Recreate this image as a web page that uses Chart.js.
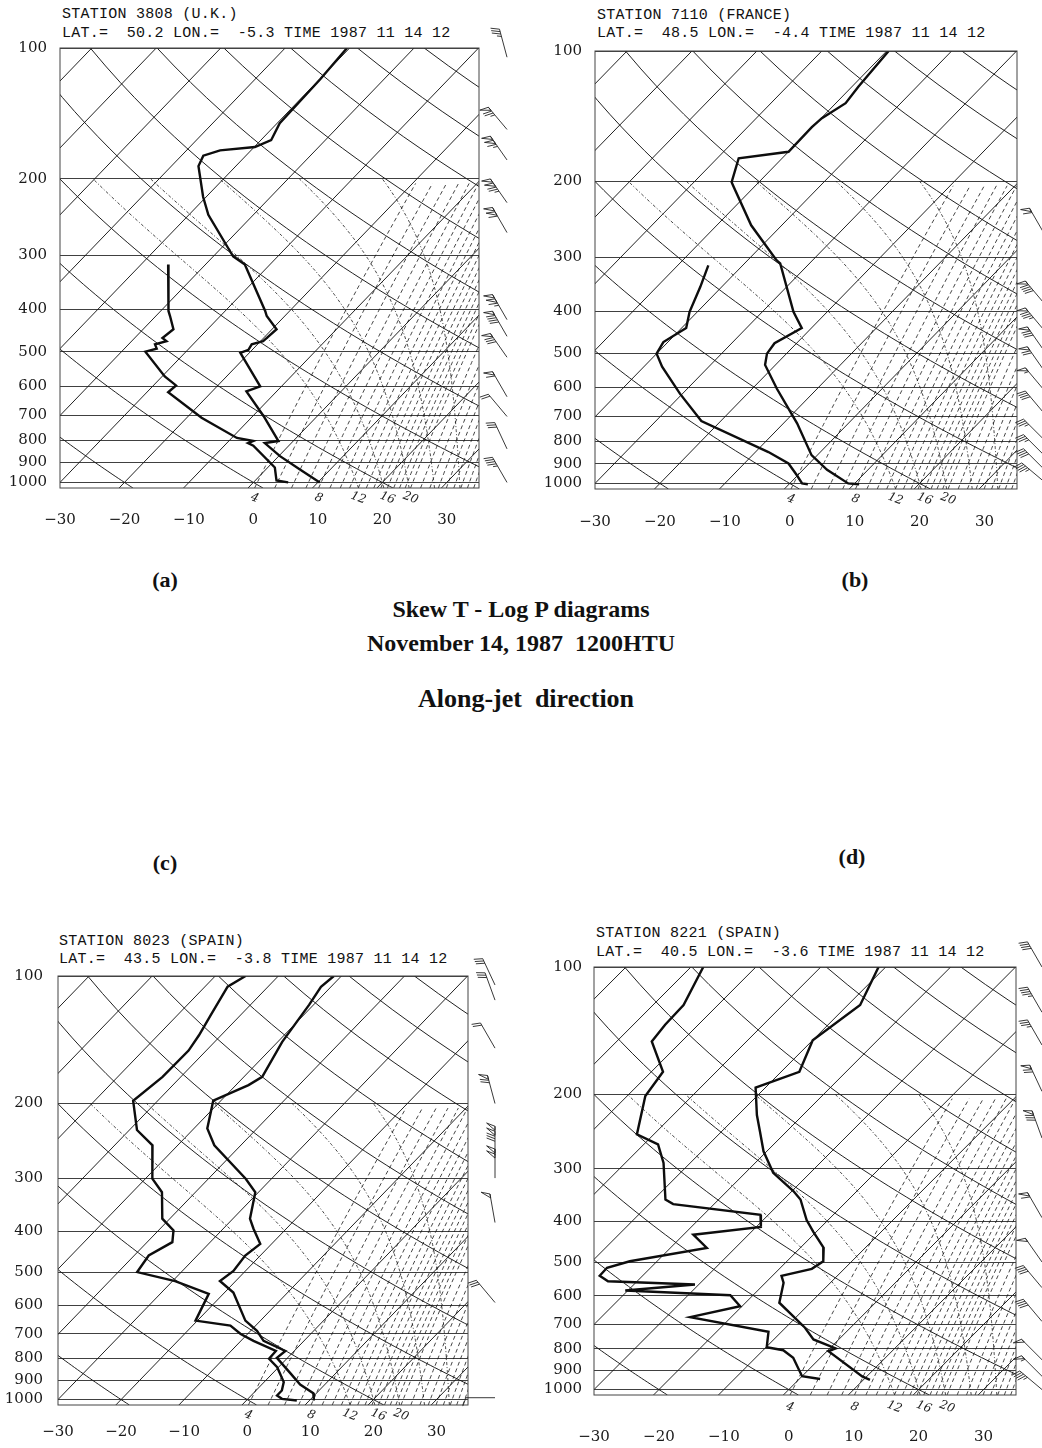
<!DOCTYPE html>
<html>
<head>
<meta charset="utf-8">
<script src="https://cdn.jsdelivr.net/npm/chart.js@4.4.1/dist/chart.umd.min.js"></script>
<style>
  body { margin:0; background:#fff; width:1042px; height:1448px; position:relative; overflow:hidden; }
  canvas { position:absolute; }
  .hdr { position:absolute; font-family:"Liberation Mono", monospace; font-size:15px; letter-spacing:0.25px; white-space:pre; color:#111; }
  .cap { position:absolute; font-family:"Liberation Serif", serif; font-weight:bold; font-size:24px; color:#111; white-space:pre; transform:translate(-50%,-50%); }
</style>
</head>
<body>
<div class="hdr" style="left:62px;top:5px;line-height:19px">STATION 3808 (U.K.)
LAT.=  50.2 LON.=  -5.3 TIME 1987 11 14 12</div>
<div class="hdr" style="left:597px;top:7px;line-height:18px">STATION 7110 (FRANCE)
LAT.=  48.5 LON.=  -4.4 TIME 1987 11 14 12</div>
<div class="hdr" style="left:59px;top:933px;line-height:18px">STATION 8023 (SPAIN)
LAT.=  43.5 LON.=  -3.8 TIME 1987 11 14 12</div>
<div class="hdr" style="left:596px;top:924px;line-height:19px">STATION 8221 (SPAIN)
LAT.=  40.5 LON.=  -3.6 TIME 1987 11 14 12</div>

<div class="cap" style="left:165px;top:580px;font-size:22px">(a)</div>
<div class="cap" style="left:855px;top:580px;font-size:22px">(b)</div>
<div class="cap" style="left:521px;top:609px">Skew T - Log P diagrams</div>
<div class="cap" style="left:521px;top:643px">November 14, 1987  1200HTU</div>
<div class="cap" style="left:526px;top:699px;font-size:26px">Along-jet  direction</div>
<div class="cap" style="left:165px;top:863px;font-size:22px">(c)</div>
<div class="cap" style="left:852px;top:857px;font-size:22px">(d)</div>

<script>
// ---- diagram reference values ----
const pressureTicks = [100, 200, 300, 400, 500, 600, 700, 800, 900, 1000];
const tempTicks = [-30, -20, -10, 0, 10, 20, 30];
const isothermT = [-100, -90, -80, -70, -60, -50, -40, -30, -20, -10, 0, 10, 20, 30];
const dryThetaC = [-20, 0, 20, 40, 60, 80, 100, 120, 140, 160, 180];
const mixW = [4, 5, 6, 7, 8, 9, 10, 11, 12, 13, 14, 15, 16, 17, 18, 19, 20, 22, 24, 26, 28, 30, 32, 34, 36];
const mixLabelW = [4, 8, 12, 16, 20];
const moistTw = [16, 20, 24, 28, 32];

// ---- station 3808 (U.K.) ----
const tempP3808 = [100, 118, 149, 163, 169, 172, 177, 187, 220, 242, 302, 315, 403, 414, 444, 465, 473, 481, 495, 503, 601, 617, 704, 803, 812, 870, 934, 1000];
const temp3808  = [-50.4, -49.9, -49.6, -48.4, -49.9, -54.8, -56.6, -55.8, -50.5, -47.0, -36.9, -33.9, -23.8, -22.8, -19.3, -19.5, -19.6, -20.9, -20.6, -21.4, -13.3, -14.7, -8.3, -2.3, -4.1, 0.2, 5.3, 10.3];
const dewP3808  = [315, 403, 414, 444, 465, 473, 481, 492, 500, 570, 598, 620, 710, 790, 803, 812, 823, 924, 990, 1000];
const dew3808   = [-45.8, -38.8, -37.8, -35.3, -35.7, -34.6, -35.9, -35.0, -36.3, -29.6, -26.5, -26.7, -17.7, -9.2, -6.2, -6.7, -5.5, 1.1, 3.3, 5.4];
const windP3808   = [105, 154, 181, 227, 266, 422, 461, 515, 635, 705, 837, 1000];
const windDir3808 = [345, 320, 325, 325, 330, 330, 330, 325, 330, 320, 335, 330];
const windKt3808  = [35, 75, 115, 125, 110, 115, 90, 80, 60, 20, 30, 45];

// ---- station 7110 (France) ----
const tempP7110 = [100, 121, 132, 143, 150, 171, 177, 201, 206, 253, 305, 310, 401, 437, 474, 501, 532, 604, 726, 860, 930, 1000, 1004];
const temp7110  = [-49.7, -49.0, -48.5, -49.9, -50.1, -50.0, -56.7, -54.2, -53.2, -44.7, -35.5, -34.5, -25.2, -21.5, -23.4, -23.0, -21.6, -16.2, -7.9, -0.9, 3.7, 9.0, 10.8];
const dewP7110  = [313, 351, 401, 437, 471, 501, 537, 620, 717, 846, 899, 956, 1000, 1004];
const dew7110   = [-45.3, -43.3, -41.2, -39.3, -40.7, -40.0, -37.2, -30.4, -23.0, -8.0, -3.2, -0.2, 1.9, 2.9];
const windP7110   = [264, 383, 442, 493, 548, 608, 688, 792, 860, 927, 990];
const windDir7110 = [330, 320, 320, 325, 325, 320, 320, 315, 315, 315, 310];
const windKt7110  = [60, 90, 85, 80, 70, 55, 40, 35, 35, 40, 45];

// ---- station 8023 (Spain) ----
const tempP8023 = [100, 106, 117, 143, 173, 181, 197, 229, 251, 301, 324, 374, 395, 429, 457, 497, 525, 559, 651, 688, 727, 768, 797, 865, 922, 966, 1005];
const temp8023  = [-51.2, -51.6, -50.7, -49.3, -47.1, -48.0, -51.2, -47.9, -44.2, -34.1, -30.5, -27.3, -25.2, -21.8, -22.4, -21.9, -22.5, -18.6, -12.4, -9.0, -6.4, -1.4, -1.7, 2.7, 6.1, 9.5, 10.7];
const dewP8023  = [100, 106, 124, 138, 150, 173, 197, 231, 251, 301, 324, 374, 399, 425, 457, 500, 525, 563, 651, 669, 700, 727, 768, 801, 839, 909, 952, 978, 996, 1005];
const dew8023   = [-65.2, -66.4, -64.7, -63.5, -62.8, -62.9, -63.9, -58.8, -54.0, -48.9, -45.3, -41.2, -37.6, -36.0, -37.7, -37.0, -29.6, -22.3, -20.3, -14.0, -11.1, -8.0, -2.9, -2.8, -0.2, 3.1, 4.1, 4.1, 5.4, 8.0];
const windP8023   = [105, 114, 148, 200, 265, 300, 382, 590, 990];
const windDir8023 = [335, 340, 330, 345, 0, 0, 350, 320, 270];
const windKt8023  = [30, 30, 20, 70, 130, 100, 50, 30, 10];

// ---- station 8221 (Spain) ----
const tempP8221 = [100, 123, 149, 177, 193, 224, 245, 273, 307, 339, 355, 397, 423, 462, 497, 518, 538, 559, 623, 714, 761, 799, 811, 931, 948];
const temp8221  = [-51.1, -48.1, -50.0, -47.2, -51.5, -47.1, -44.1, -40.5, -35.7, -29.8, -27.4, -23.3, -20.5, -16.4, -14.4, -15.0, -18.6, -17.2, -14.8, -7.0, -3.9, 0.9, 0.2, 9.3, 11.0];
const dewP8221  = [100, 123, 137, 150, 177, 202, 249, 263, 291, 355, 364, 386, 412, 430, 462, 497, 515, 538, 554, 564, 583, 598, 635, 674, 730, 794, 807, 841, 930, 944];
const dew8221   = [-78.1, -75.3, -75.1, -74.6, -68.2, -67.2, -62.6, -57.8, -54.1, -48.2, -46.3, -31.2, -29.3, -38.5, -34.4, -44.2, -46.7, -46.6, -44.5, -30.6, -40.4, -23.5, -20.3, -26.3, -12.0, -9.9, -6.9, -4.2, 0.0, 3.2];
const windP8221   = [100, 128, 153, 197, 254, 392, 499, 574, 690, 850, 930, 1000];
const windDir8221 = [330, 330, 330, 335, 340, 330, 325, 320, 320, 315, 315, 310];
const windKt8221  = [40, 45, 35, 70, 80, 60, 50, 40, 40, 50, 55, 45];

// ---- skew-T geometry ----
const SKEW = 28.2;      // deg C shift per unit of ln(p)
const P_TOP = 100, P_BOT = 1030;

function skewX(t, p) { return t + SKEW * Math.log(1000 / p); }
function profile(ps, ts) { return ps.map((p, i) => ({ x: skewX(ts[i], p), y: p })); }

function satVap(t) { return 6.112 * Math.exp(17.67 * t / (t + 243.5)); }
function dewFromMix(w, p) {
  const e = w * p / (622 + w);
  const l = Math.log(e / 6.112);
  return 243.5 * l / (17.67 - l);
}

// pressure samples along the curved background lines
const curveP = [];
for (let p = P_BOT; p >= P_TOP; p -= 10) curveP.push(p);
curveP.push(P_TOP);

function dryAdiabat(thC) {
  return curveP.map(p => ({ x: skewX((thC + 273.15) * Math.pow(p / 1000, 0.2857) - 273.15, p), y: p }));
}
function mixLine(w) {
  const out = [];
  for (let p = P_BOT; p >= 200; p -= 25) out.push({ x: skewX(dewFromMix(w, p), p), y: p });
  return out;
}
// pseudo-adiabat through tw at 1000 hPa, up to 200 hPa
function moistAdiabat(tw) {
  const Rd = 287.04, Cp = 1005.7, Lv = 2.501e6, eps = 0.622;
  const slope = (t, p) => {
    const tk = t + 273.15, es = satVap(t), r = eps * es / (p - es);
    return (Rd * tk + Lv * r) / p / (Cp + Lv * Lv * r * eps / (Rd * tk * tk));
  };
  const step = (t, p, dp) => {
    const k1 = slope(t, p), k2 = slope(t + k1 * dp / 2, p + dp / 2);
    return t + k2 * dp;
  };
  const out = [];
  let t = tw, p = 1000;
  out.push({ x: skewX(step(t, p, 30), P_BOT), y: P_BOT });
  while (p > 200) {
    out.push({ x: skewX(t, p), y: p });
    t = step(t, p, -5); p -= 5;
  }
  out.push({ x: skewX(t, p), y: p });
  return out;
}

function thin(data, dash, width) {
  return { data, showLine: true, pointRadius: 0, borderColor: '#151515', borderWidth: width || 0.95, borderDash: dash || [], tension: 0 };
}

function drawBarb(ctx, x, y, dir, kt) {
  const L = 29, F = 9;
  const a = dir * Math.PI / 180;
  const ux = Math.sin(a), uy = -Math.cos(a);
  const fa = a - 1.2;
  const fx = Math.sin(fa) * F, fy = -Math.cos(fa) * F;
  let s = Math.round(kt / 5) * 5, d = L;
  ctx.beginPath();
  ctx.moveTo(x, y); ctx.lineTo(x + ux * L, y + uy * L);
  ctx.stroke();
  while (s >= 50) {
    ctx.beginPath();
    ctx.moveTo(x + ux * d, y + uy * d);
    ctx.lineTo(x + ux * d + fx, y + uy * d + fy);
    ctx.lineTo(x + ux * (d - 4), y + uy * (d - 4));
    ctx.closePath(); ctx.stroke();
    d -= 5; s -= 50;
  }
  ctx.beginPath();
  while (s >= 10) {
    ctx.moveTo(x + ux * d, y + uy * d); ctx.lineTo(x + ux * d + fx, y + uy * d + fy);
    d -= 2.5; s -= 10;
  }
  if (s >= 5) {
    if (d === L) d -= 3;
    ctx.moveTo(x + ux * d, y + uy * d); ctx.lineTo(x + ux * d + fx / 2, y + uy * d + fy / 2);
  }
  ctx.stroke();
}

const skewExtras = {
  id: 'skewExtras',
  afterDraw(chart, args, opts) {
    const { ctx, chartArea: ca, scales } = chart;
    ctx.save();
    ctx.strokeStyle = '#444'; ctx.lineWidth = 1;
    ctx.strokeRect(ca.left, ca.top, ca.right - ca.left, ca.bottom - ca.top);

    ctx.fillStyle = '#222';
    ctx.font = 'italic 12px "DejaVu Serif"';
    ctx.textAlign = 'center'; ctx.textBaseline = 'middle';
    mixLabelW.forEach(w => {
      const px = scales.x.getPixelForValue(skewX(dewFromMix(w, P_BOT), P_BOT));
      ctx.save();
      ctx.translate(px, ca.bottom + opts.labelDy);
      ctx.rotate(0.35);
      ctx.fillText(String(w), 0, 0);
      ctx.restore();
    });

    ctx.strokeStyle = '#222'; ctx.fillStyle = '#222'; ctx.lineWidth = 0.9;
    opts.windP.forEach((p, i) => {
      drawBarb(ctx, ca.right + opts.barbDx, scales.y.getPixelForValue(p), opts.windDir[i], opts.windKt[i]);
    });
    ctx.restore();
  }
};

function makePanel(cfg) {
  const canvas = document.createElement('canvas');
  canvas.width = cfg.width; canvas.height = cfg.height;
  canvas.style.left = cfg.left + 'px'; canvas.style.top = cfg.top + 'px';
  document.body.appendChild(canvas);

  const b = cfg.box;
  const xAxisH = cfg.xPad + 20;
  const datasets = [];
  isothermT.forEach(t => datasets.push(thin([{ x: skewX(t, P_BOT), y: P_BOT }, { x: skewX(t, P_TOP), y: P_TOP }])));
  dryThetaC.forEach(th => datasets.push(thin(dryAdiabat(th))));
  mixW.forEach(w => datasets.push(thin(mixLine(w), [4, 3], 0.8)));
  moistTw.forEach(tw => datasets.push(thin(moistAdiabat(tw), [3, 2, 1, 2], 0.8)));
  [profile(cfg.tempP, cfg.temp), profile(cfg.dewP, cfg.dew)].forEach(d => datasets.push({
    data: d, showLine: true, pointRadius: 0, borderColor: '#0d0d0d', borderWidth: 2.4, tension: 0
  }));

  const tickFont = { family: "'DejaVu Serif', serif", size: 15 };
  return new Chart(canvas, {
    type: 'scatter',
    data: { datasets },
    plugins: [skewExtras],
    options: {
      responsive: false, animation: false, events: [],
      layout: { padding: { left: 0, top: b.t - cfg.top, right: cfg.left + cfg.width - b.r, bottom: cfg.top + cfg.height - b.b - xAxisH } },
      plugins: {
        legend: { display: false }, tooltip: { enabled: false },
        skewExtras: { windP: cfg.windP, windDir: cfg.windDir, windKt: cfg.windKt, barbDx: cfg.barbDx, labelDy: cfg.labelDy }
      },
      scales: {
        x: {
          type: 'linear', min: -30, max: 35,
          grid: { display: false, drawTicks: false }, border: { display: false },
          afterBuildTicks: s => { s.ticks = tempTicks.map(v => ({ value: v })); },
          afterFit: s => { s.height = xAxisH; },
          ticks: { padding: cfg.xPad, color: '#1a1a1a', font: tickFont, maxRotation: 0,
                   callback: v => (v < 0 ? '\u2212' + Math.abs(v) : String(v)) }
        },
        y: {
          type: 'logarithmic', reverse: true, min: P_TOP, max: P_BOT,
          grid: { color: '#2a2a2a', lineWidth: 0.9, drawTicks: false }, border: { display: false },
          afterBuildTicks: s => { s.ticks = pressureTicks.map(v => ({ value: v })); },
          afterFit: s => { s.width = b.l - cfg.left; },
          ticks: { padding: cfg.yPad, color: '#1a1a1a', font: tickFont, callback: v => String(v) }
        }
      }
    }
  });
}

makePanel({ left: 0, top: 0, width: 530, height: 545, box: { l: 60, t: 48, r: 479, b: 488 }, xPad: 23, yPad: 13, barbDx: 28, labelDy: 10,
  tempP: tempP3808, temp: temp3808, dewP: dewP3808, dew: dew3808, windP: windP3808, windDir: windDir3808, windKt: windKt3808 });
makePanel({ left: 530, top: 0, width: 512, height: 545, box: { l: 595, t: 51, r: 1017, b: 489 }, xPad: 24, yPad: 13, barbDx: 27, labelDy: 10,
  tempP: tempP7110, temp: temp7110, dewP: dewP7110, dew: dew7110, windP: windP7110, windDir: windDir7110, windKt: windKt7110 });
makePanel({ left: 0, top: 925, width: 520, height: 523, box: { l: 58, t: 976, r: 468, b: 1405 }, xPad: 18, yPad: 15, barbDx: 27, labelDy: 10,
  tempP: tempP8023, temp: temp8023, dewP: dewP8023, dew: dew8023, windP: windP8023, windDir: windDir8023, windKt: windKt8023 });
makePanel({ left: 520, top: 925, width: 522, height: 523, box: { l: 594, t: 967, r: 1016, b: 1395 }, xPad: 33, yPad: 12, barbDx: 26, labelDy: 12,
  tempP: tempP8221, temp: temp8221, dewP: dewP8221, dew: dew8221, windP: windP8221, windDir: windDir8221, windKt: windKt8221 });
</script>
</body>
</html>
